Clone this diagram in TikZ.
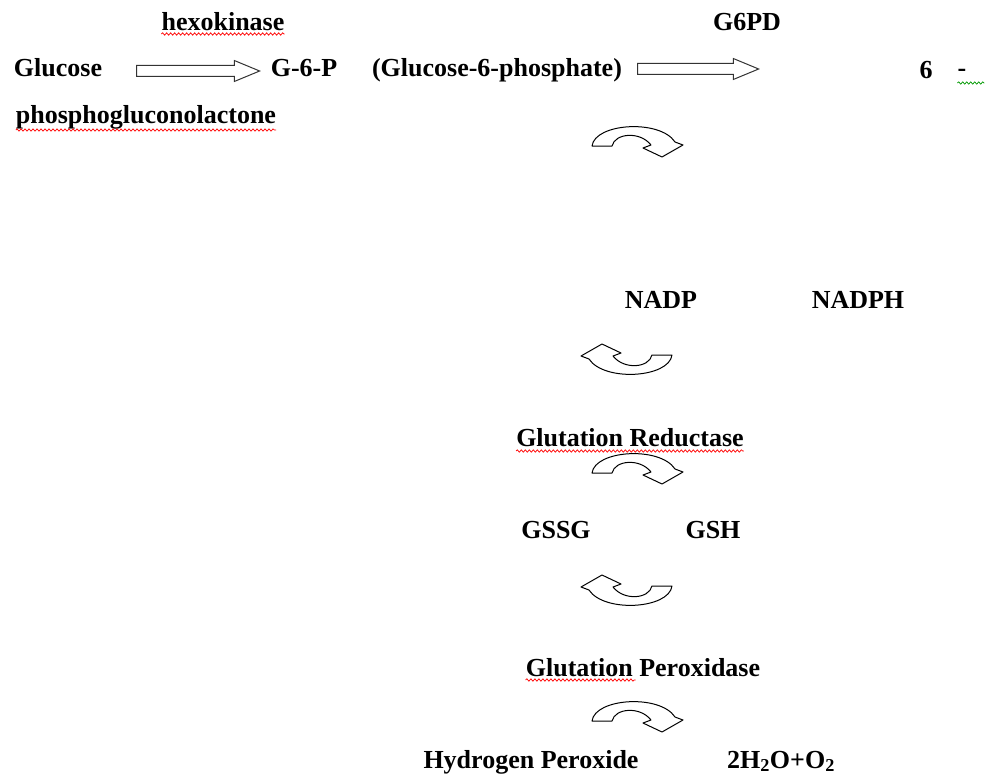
\documentclass[tikz,border=0pt]{standalone}
\usepackage{fontspec}
\setmainfont{Liberation Serif}
\usetikzlibrary{shapes.arrows,decorations.pathmorphing}
\tikzset{
  lbl/.style={font=\fontsize{26}{30}\selectfont\bfseries, inner sep=0pt, anchor=base},
  blockarr/.style={single arrow, draw=black!80, line width=1pt, fill=white, inner sep=5pt,
    single arrow head extend=5pt, single arrow tip angle=45, minimum height=#1, anchor=center},
  wavy/.style={draw=#1, line width=0.7pt, decorate, decoration={snake, segment length=4pt, amplitude=1.2pt}},
  pics/curvarrow/.style={code={
    \draw[line width=1pt, fill=white, line join=round]
      (-45,5) .. controls (-42,-18) and (23,-22) .. (38,1) -- (46,4) -- (25,16) -- (6,7) -- (14,4)
      .. controls (3,-10) and (-22,-8) .. (-25,5) -- cycle;
  }}
}
\begin{document}
\begin{tikzpicture}[x=1pt,y=-1pt]
\useasboundingbox[fill=white] (0,0) rectangle (986,776);

% top row
\node[lbl] (hexo) at (223,31) {hexokinase};
\node[lbl] (g6pd) at (747,31) {G6PD};
\node[lbl] (glc) at (58,77) {Glucose};
\node[lbl] (g6p) at (304,77) {G-6-P};
\node[lbl] (g6pfull) at (497,77) {(Glucose-6-phosphate)};
\node[lbl] (six) at (926,78) {6};
\node[lbl] (dash) at (962,77) {-};
\node[lbl] (pgl) at (146,123) {phosphogluconolactone};

\node[blockarr=123pt] (ar1) at (191.5,71) {};
\node[blockarr=121pt] (ar2) at (691.5,69) {};

% lower column
\node[lbl] (nadp) at (661,308) {NADP};
\node[lbl] (nadph) at (858,308) {NADPH};
\node[lbl] (gr) at (630,446) {Glutation Reductase};
\node[lbl] (gssg) at (556,538) {GSSG};
\node[lbl] (gsh) at (713,538) {GSH};
\node[lbl] (gp) at (643,676) {Glutation Peroxidase};
\node[lbl] (hp) at (531,768) {Hydrogen Peroxide};
\node[lbl] (water) at (781,768) {2H\textsubscript{2}O+O\textsubscript{2}};

% curved arrows
\pic at (637,141) {curvarrow};
\pic[rotate=180] at (627,360) {curvarrow};
\pic at (637,468) {curvarrow};
\pic[rotate=180] at (627,591) {curvarrow};
\pic at (637,716) {curvarrow};

% spell-check underlines
\draw[wavy=red] ([yshift=-3pt]hexo.base west) -- ([yshift=-3pt]hexo.base east);
\draw[wavy=red] ([yshift=-7pt]pgl.base west) -- ([yshift=-7pt]pgl.base east);
\draw[wavy=red] ([yshift=-5pt]gr.base west) -- ([yshift=-5pt]gr.base east);
\draw[wavy=red] ([yshift=-4pt]gp.base west) -- ([xshift=110pt,yshift=-4pt]gp.base west);
\draw[wavy={green!60!black}] ([yshift=-6pt]dash.base west) -- ([xshift=27pt,yshift=-6pt]dash.base west);
\end{tikzpicture}
\end{document}
